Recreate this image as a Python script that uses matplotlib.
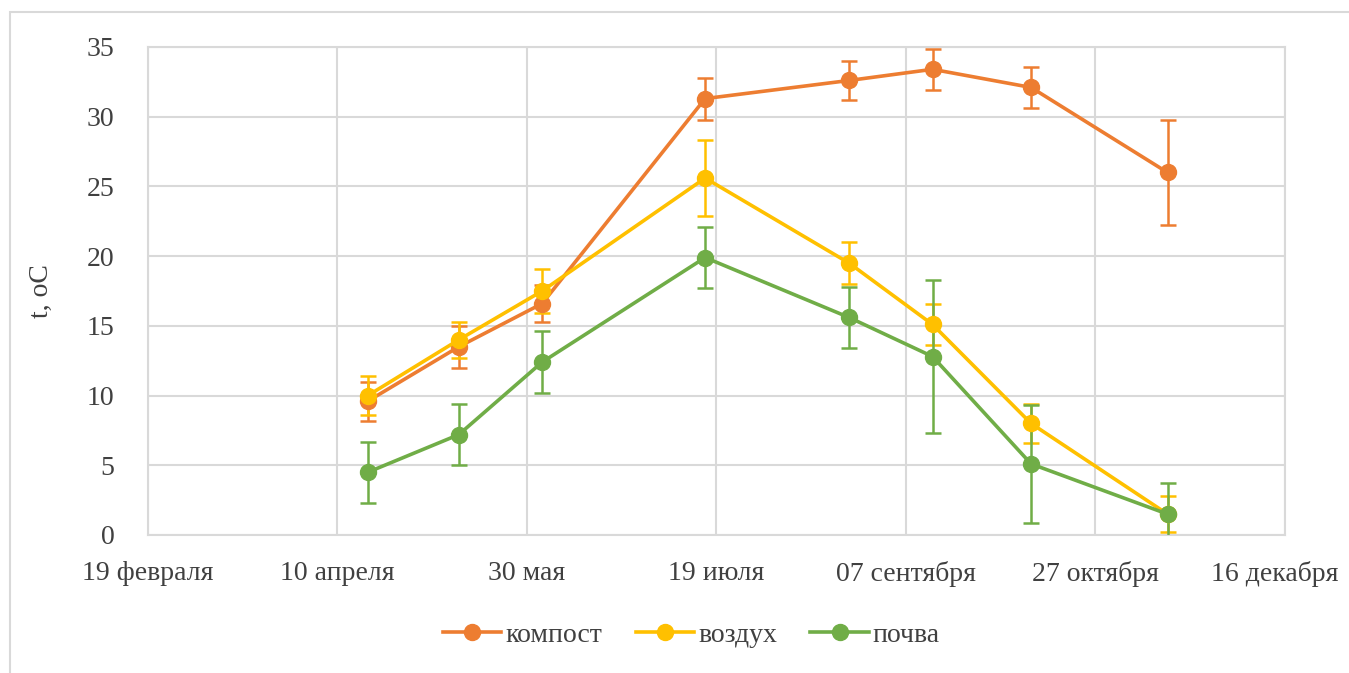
import numpy as np
import matplotlib
matplotlib.use("Agg")
import matplotlib.pyplot as plt
import matplotlib.dates as mdates
import matplotlib.transforms as mtransforms
from matplotlib.patches import Rectangle
from matplotlib.lines import Line2D

plt.rcParams['font.family'] = ['Liberation Serif', 'DejaVu Serif']

#-------------Данные--------------
dates = ["2019-04-18", "2019-05-12", "2019-06-03", "2019-07-16",
         "2019-08-23", "2019-09-14", "2019-10-10", "2019-11-15"]

compost = [9.6, 13.5, 16.6, 31.3, 32.6, 33.4, 32.1, 26.0]
compost_err = [1.4, 1.5, 1.3, 1.5, 1.4, 1.45, 1.45, 3.75]

air = [10.0, 14.0, 17.5, 25.6, 19.5, 15.1, 8.0, 1.5]
air_err = [1.4, 1.3, 1.6, 2.7, 1.5, 1.45, 1.4, 1.3]

soil = [4.5, 7.2, 12.4, 19.9, 15.6, 12.8, 5.1, 1.5]
soil_err = [2.2, 2.2, 2.2, 2.2, 2.2, 5.5, 4.25, 2.2]

series_names = ["компост", "воздух", "почва"]
colors = ["#ED7D31", "#FFC000", "#70AD47"]

tick_dates = ["2019-02-19", "2019-04-10", "2019-05-30", "2019-07-19",
              "2019-09-07", "2019-10-27", "2019-12-16"]
tick_labels = ["19 февраля", "10 апреля", "30 мая", "19 июля",
               "07 сентября", "27 октября", "16 декабря"]

#-------------График--------------
x = mdates.datestr2num(dates)
xt = mdates.datestr2num(tick_dates)

fig = plt.figure(figsize=(13.49, 6.73), dpi=100)
fig.patches.append(Rectangle((10/1349, -0.1), 1.2, 1 - 12/673 + 0.1,
                             transform=fig.transFigure, fill=False,
                             edgecolor="#D9D9D9", linewidth=1.5))
ax = fig.add_axes([148/1349, 1 - 535/673, (1285 - 148)/1349, (535 - 47)/673])

handles = []
for vals, errs, name, c in zip([compost, air, soil],
                               [compost_err, air_err, soil_err],
                               series_names, colors):
    ax.errorbar(x, vals, yerr=errs, color=c, marker="o", markersize=11.5,
                linewidth=2.6, elinewidth=1.8, capsize=6, capthick=1.8,
                zorder=3)
    handles.append(Line2D([], [], color=c, marker="o", markersize=11.5,
                          linewidth=2.6, label=name))

ax.set_xlim(xt[0], xt[-1])
ax.set_ylim(0, 35)
ax.set_xticks(xt)
ax.set_xticklabels(tick_labels)
ax.set_yticks(np.arange(0, 36, 5))
ax.grid(color="#D9D9D9", linewidth=1.5)
ax.set_axisbelow(True)
for s in ax.spines.values():
    s.set_color("#D9D9D9")
    s.set_linewidth(1.5)
ax.tick_params(length=0, labelsize=20, colors="#404040", pad=19)
ax.tick_params(axis="y", pad=24)
ax.set_ylabel("t, oC", fontsize=20, color="#404040", labelpad=24)

# последняя подпись чуть левее, чтобы не обрезалась
last = ax.get_xticklabels()[-1]
last.set_transform(last.get_transform() +
                   mtransforms.ScaledTranslation(-0.1, 0, fig.dpi_scale_trans))

leg = ax.legend(handles=handles, loc="center", bbox_to_anchor=(0.478, -0.205),
                ncol=3, frameon=False, fontsize=20, handlelength=2.1,
                columnspacing=1.2, handletextpad=0.15)
for t in leg.get_texts():
    t.set_color("#404040")

fig.savefig("out.png", dpi=100)
